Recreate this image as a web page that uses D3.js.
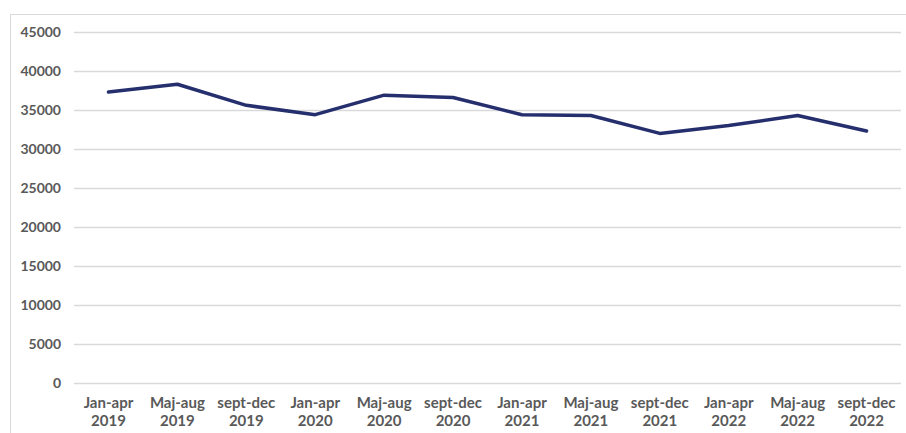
<!DOCTYPE html>
<html><head><meta charset="utf-8">
<script src="https://cdn.jsdelivr.net/npm/d3@7"></script>
<style>
html,body{margin:0;padding:0;background:#fff;}
svg{display:block;}
</style></head>
<body>
<svg id="chart" width="906" height="433"></svg>
<script>
const categories = [
  ["Jan-apr","2019"],["Maj-aug","2019"],["sept-dec","2019"],
  ["Jan-apr","2020"],["Maj-aug","2020"],["sept-dec","2020"],
  ["Jan-apr","2021"],["Maj-aug","2021"],["sept-dec","2021"],
  ["Jan-apr","2022"],["Maj-aug","2022"],["sept-dec","2022"]
];
const values = [37300, 38300, 35600, 34400, 36900, 36600, 34400, 34300, 32000, 33000, 34300, 32300];
const yTicks = [0, 5000, 10000, 15000, 20000, 25000, 30000, 35000, 40000, 45000];

(function () {
const svg = d3.select("#chart");
const mLeft = 74, mRight = 901, mTop = 32, mBottom = 383;

// outer border
svg.append("rect").attr("x", 10.5).attr("y", 14.5).attr("width", 920).attr("height", 440)
  .attr("fill", "none").attr("stroke", "#d9d9d9").attr("stroke-width", 1);

const ids = categories.map((c, i) => i);
const x = d3.scaleBand().domain(ids).range([mLeft, mRight]);
const y = d3.scaleLinear().domain([0, 45000]).range([mBottom, mTop]);

// gridlines
svg.append("g").selectAll("line").data(yTicks).join("line")
  .attr("x1", mLeft).attr("x2", mRight)
  .attr("y1", d => Math.round(y(d)) + 0.5).attr("y2", d => Math.round(y(d)) + 0.5)
  .attr("stroke", "#d9d9d9").attr("stroke-width", 1.3);

// y axis labels
const yAxis = d3.axisLeft(y).tickValues(yTicks).tickSize(0).tickPadding(0).tickFormat(d3.format("d"));
const gy = svg.append("g").attr("transform", "translate(61,0)").call(yAxis);
gy.select(".domain").remove();
gy.selectAll("text").attr("fill", "#595959").style("font-family", "Lato, 'Open Sans', sans-serif")
  .style("font-weight", "bold").style("font-size", "14px");

// x axis labels
const xAxis = d3.axisBottom(x).tickSize(0).tickFormat("");
const gx = svg.append("g").attr("transform", `translate(0,${mBottom})`).call(xAxis);
gx.select(".domain").remove();
gx.selectAll(".tick").each(function (i) {
  const t = d3.select(this).select("text").text(null)
    .attr("fill", "#595959").style("font-family", "Lato, 'Open Sans', sans-serif")
    .style("font-weight", "bold").style("font-size", "15px").attr("dy", null).attr("y", 0);
  t.append("tspan").attr("x", 0).attr("y", 25).text(categories[i][0]);
  t.append("tspan").attr("x", 0).attr("y", 43).text(categories[i][1]);
});

// line
const line = d3.line().x((d, i) => x(i) + x.bandwidth() / 2).y(d => y(d));
svg.append("path").datum(values).attr("d", line)
  .attr("fill", "none").attr("stroke", "#262f6e").attr("stroke-width", 3.5)
  .attr("stroke-linejoin", "round").attr("stroke-linecap", "round");
})();
</script>
</body></html>
